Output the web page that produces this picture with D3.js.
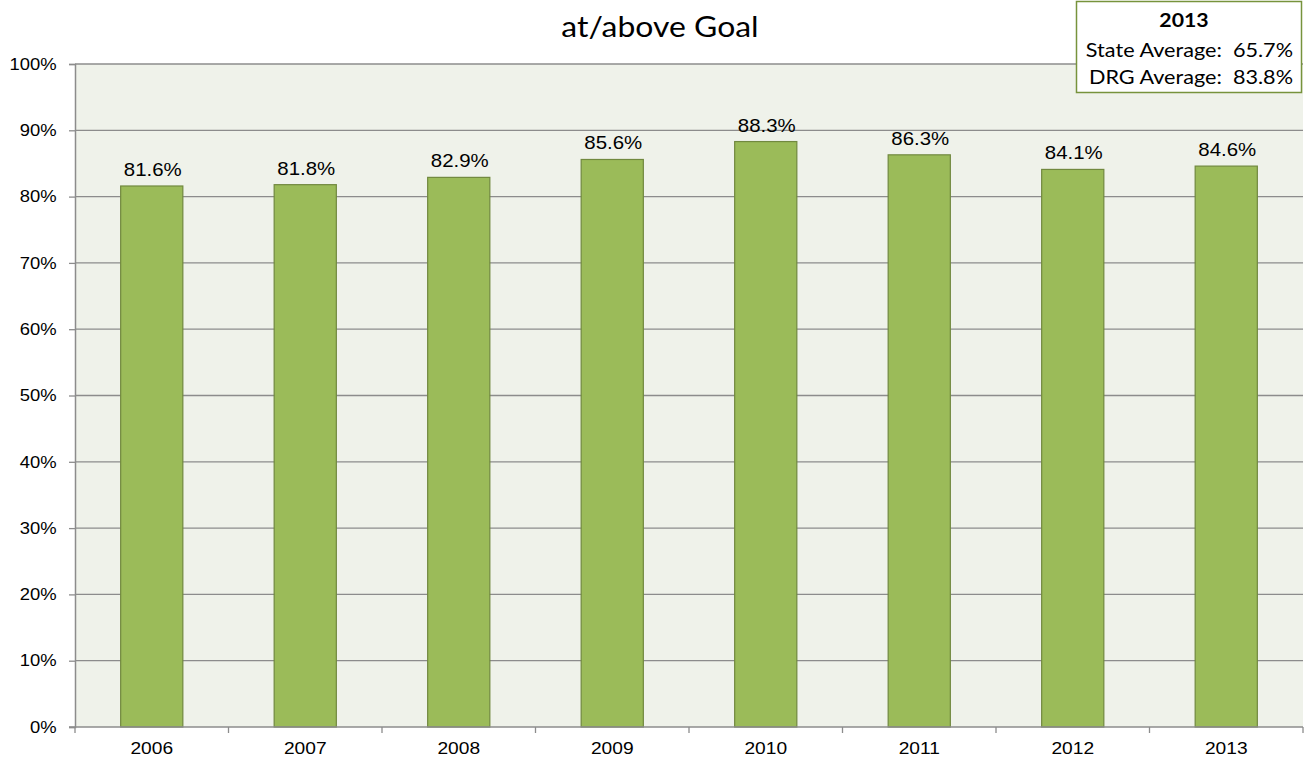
<!DOCTYPE html>
<html><head><meta charset="utf-8">
<script src="https://cdn.jsdelivr.net/npm/d3@7/dist/d3.min.js"></script>
<style>body{margin:0;background:#fff}svg{display:block}</style>
</head><body>
<svg id="c" width="1306" height="763"></svg>
<script>
const years = ["2006","2007","2008","2009","2010","2011","2012","2013"];
const values = [81.6, 81.8, 82.9, 85.6, 88.3, 86.3, 84.1, 84.6];
const yTicks = [0,10,20,30,40,50,60,70,80,90,100];
const title = "at/above Goal";
const legendTitle = "2013";
const legendLines = ["State Average:  65.7%", "DRG Average:  83.8%"];

const svg = d3.select("#c");
const L = 75, R = 1303, T = 64, B = 727;
const x = d3.scaleBand().domain(years).range([L, R]).padding(0);
const y = d3.scaleLinear().domain([0, 100]).range([B, T]);

svg.append("rect").attr("x", L).attr("y", T).attr("width", R - L).attr("height", B - T).attr("fill", "#EFF2EA");

// gridlines
svg.append("g").selectAll("line").data(yTicks.filter(d => d > 0)).join("line")
  .attr("x1", L).attr("x2", R).attr("y1", d => y(d)).attr("y2", d => y(d))
  .attr("stroke", "#8C8C8C").attr("stroke-width", 1.3);

// y axis
const YSX = 1.13;
const ya = svg.append("g").attr("transform", `translate(${L},0)`)
  .call(d3.axisLeft(y).tickValues(yTicks).tickFormat(d => d + "%").tickSize(6).tickPadding(12));
ya.select(".domain").attr("stroke", "#8C8C8C").attr("stroke-width", 1.5);
ya.selectAll(".tick line").attr("stroke", "#8C8C8C").attr("stroke-width", 1.3);
ya.selectAll(".tick text").attr("font-family", "Liberation Sans, Arial").attr("font-size", 16.3).attr("fill", "#000")
  .attr("x", -18.5 / YSX).attr("transform", `scale(${YSX},1)`);

// bars
const bw = x.bandwidth() * 0.405;
svg.append("g").selectAll("rect").data(years).join("rect")
  .attr("x", (d) => x(d) + x.bandwidth() / 2 - bw / 2)
  .attr("y", (d, i) => y(values[i]))
  .attr("width", bw)
  .attr("height", (d, i) => B - y(values[i]))
  .attr("fill", "#9BBB59").attr("stroke", "#71893F").attr("stroke-width", 1.2);

// value labels
svg.append("g").selectAll("text").data(years).join("text")
  .attr("transform", (d, i) => `translate(${x(d) + x.bandwidth() / 2 + 1},${y(values[i]) - 10}) scale(1.155,1)`)
  .attr("text-anchor", "middle")
  .attr("font-family", "Liberation Sans, Arial").attr("font-size", 17.7).attr("fill", "#000")
  .text((d, i) => values[i].toFixed(1) + "%");

// x axis
const xa = svg.append("g").attr("transform", `translate(0,${B})`)
  .call(d3.axisBottom(x).tickSize(0).tickPadding(16));
xa.select(".domain").remove();
xa.selectAll(".tick text").attr("font-family", "Liberation Sans, Arial").attr("font-size", 15.6).attr("fill", "#000")
  .attr("transform", `scale(1.23,1)`);
const bounds = years.map(d => x(d)).concat([R]);
svg.append("g").selectAll("line").data(bounds).join("line")
  .attr("x1", d => d).attr("x2", d => d).attr("y1", B).attr("y2", B + 6)
  .attr("stroke", "#8C8C8C").attr("stroke-width", 1.3);
svg.append("line").attr("x1", L - 6).attr("x2", R).attr("y1", B).attr("y2", B)
  .attr("stroke", "#8C8C8C").attr("stroke-width", 1.5);

// title
svg.append("text").attr("transform", `translate(660,37) scale(1.12,1)`).attr("text-anchor", "middle")
  .attr("font-family", "Lato, Open Sans, sans-serif").attr("font-size", 28.5).attr("fill", "#000")
  .text(title);

// legend box
svg.append("rect").attr("x", 1076.5).attr("y", 1.5).attr("width", 225).attr("height", 91)
  .attr("fill", "#fff").attr("stroke", "#77933C").attr("stroke-width", 1.5);
svg.append("text").attr("transform", `translate(1184,27) scale(1.12,1)`).attr("text-anchor", "middle")
  .attr("font-family", "Lato, Open Sans, sans-serif").attr("font-weight", "bold").attr("font-size", 19)
  .text(legendTitle);
svg.append("g").selectAll("text").data(legendLines).join("text")
  .attr("transform", (d, i) => `translate(1293,${56.5 + i * 27.5}) scale(1.17,1)`).attr("text-anchor", "end")
  .attr("font-family", "Lato, Open Sans, sans-serif").attr("font-size", 18.5).attr("xml:space", "preserve")
  .style("white-space", "pre")
  .text(d => d);
</script>
</body></html>
